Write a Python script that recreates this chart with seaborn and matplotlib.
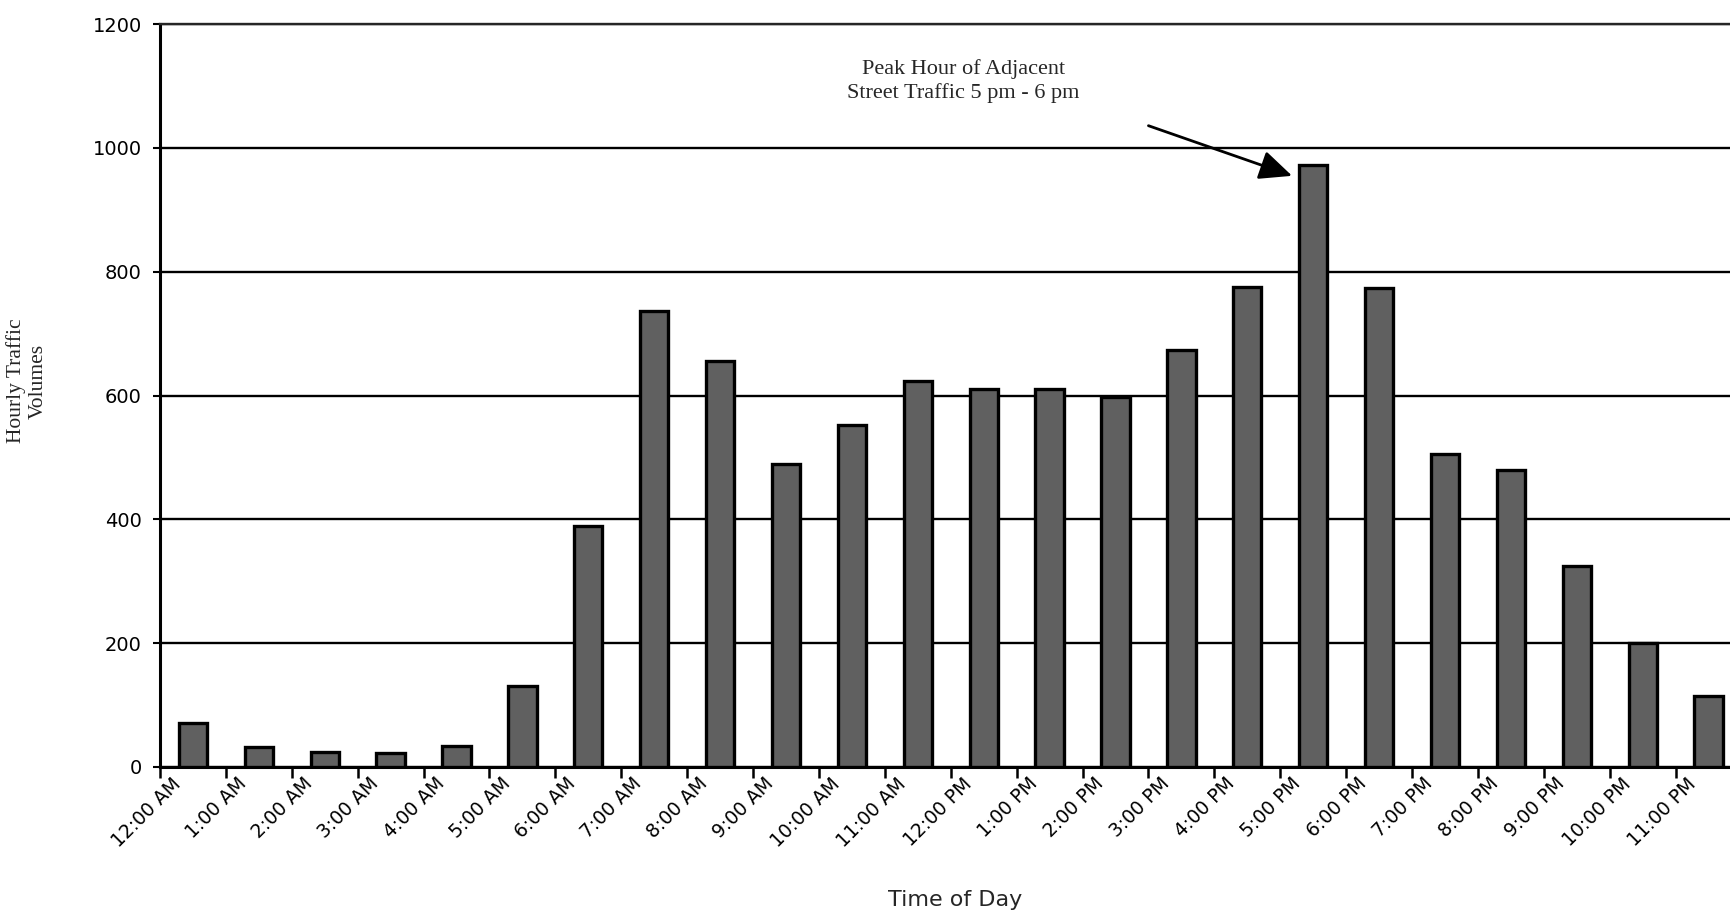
import matplotlib
matplotlib.use('Agg')
import matplotlib.pyplot as plt
import seaborn as sns
import numpy as np
import pandas as pd

# ---- data ----
hours = ['12:00 AM', '1:00 AM', '2:00 AM', '3:00 AM', '4:00 AM', '5:00 AM',
         '6:00 AM', '7:00 AM', '8:00 AM', '9:00 AM', '10:00 AM', '11:00 AM',
         '12:00 PM', '1:00 PM', '2:00 PM', '3:00 PM', '4:00 PM', '5:00 PM',
         '6:00 PM', '7:00 PM', '8:00 PM', '9:00 PM', '10:00 PM', '11:00 PM']
volumes = [71, 32, 24, 22, 34, 130, 390, 737, 656, 490, 553, 624,
           611, 611, 598, 673, 775, 973, 773, 506, 480, 325, 200, 114]
y_ticks = [0, 200, 400, 600, 800, 1000, 1200]
annotation = 'Peak Hour of Adjacent\nStreet Traffic 5 pm - 6 pm'

sns.set_style('ticks')
plt.rcParams['font.family'] = ['DejaVu Sans']

fig = plt.figure(figsize=(17.31, 9.13), dpi=100)
ax = fig.add_axes([0.0924, 0.160, 0.9137, 0.8135])

df = pd.DataFrame({'hour': hours, 'vol': volumes})
sns.barplot(data=df, x='hour', y='vol', order=hours, color='#606060',
            saturation=1, width=0.43, edgecolor='black', linewidth=2.4,
            errorbar=None, ax=ax, zorder=3)

ax.set_xlim(-0.5, 23.5)
ax.set_ylim(0, 1200)
ax.set_yticks(y_ticks)
ax.set_yticklabels([str(v) for v in y_ticks], fontsize=14)
ax.yaxis.grid(True, color='black', lw=1.7)
ax.set_axisbelow(True)

# tick marks at category boundaries (minor), labels slightly right of them (major)
n = len(hours)
ax.set_xticks(np.arange(n) - 0.5, minor=True)
ax.set_xticks(np.arange(n) - 0.5 + 0.27)
ax.set_xticklabels(hours, rotation=45, ha='right', va='center',
                   rotation_mode='anchor', fontsize=13.5)
ax.tick_params(axis='x', which='major', length=0, pad=10, colors='black')
ax.tick_params(axis='x', which='minor', length=8, width=1.8, colors='black')

for side in ['left', 'bottom']:
    ax.spines[side].set_linewidth(2.2)
    ax.spines[side].set_color('black')
ax.spines['top'].set_linewidth(1.7)
ax.spines['right'].set_visible(False)
ax.tick_params(axis='y', length=5, width=1.5, colors='black', pad=8)
ax.set_xlabel('')
ax.set_ylabel('')

fig.text(27 / 1731, 1 - 381 / 913, 'Hourly Traffic\nVolumes', rotation=90,
         ha='center', va='center', multialignment='center',
         fontfamily='Liberation Serif', fontsize=15.5)
fig.text(955 / 1731, 1 - 900 / 913, 'Time of Day', ha='center', va='center',
         fontsize=16)

ax.text(11.69, 1108, annotation, ha='center', va='center',
        fontfamily='Liberation Serif', fontsize=16, linespacing=1.3)
ax.annotate('', xy=(16.68, 955), xytext=(14.5, 1036),
            arrowprops=dict(arrowstyle='-|>,head_length=1.0,head_width=0.45',
                            lw=2, color='black', mutation_scale=20,
                            shrinkA=0, shrinkB=0))

fig.savefig('out.png', dpi=100)
